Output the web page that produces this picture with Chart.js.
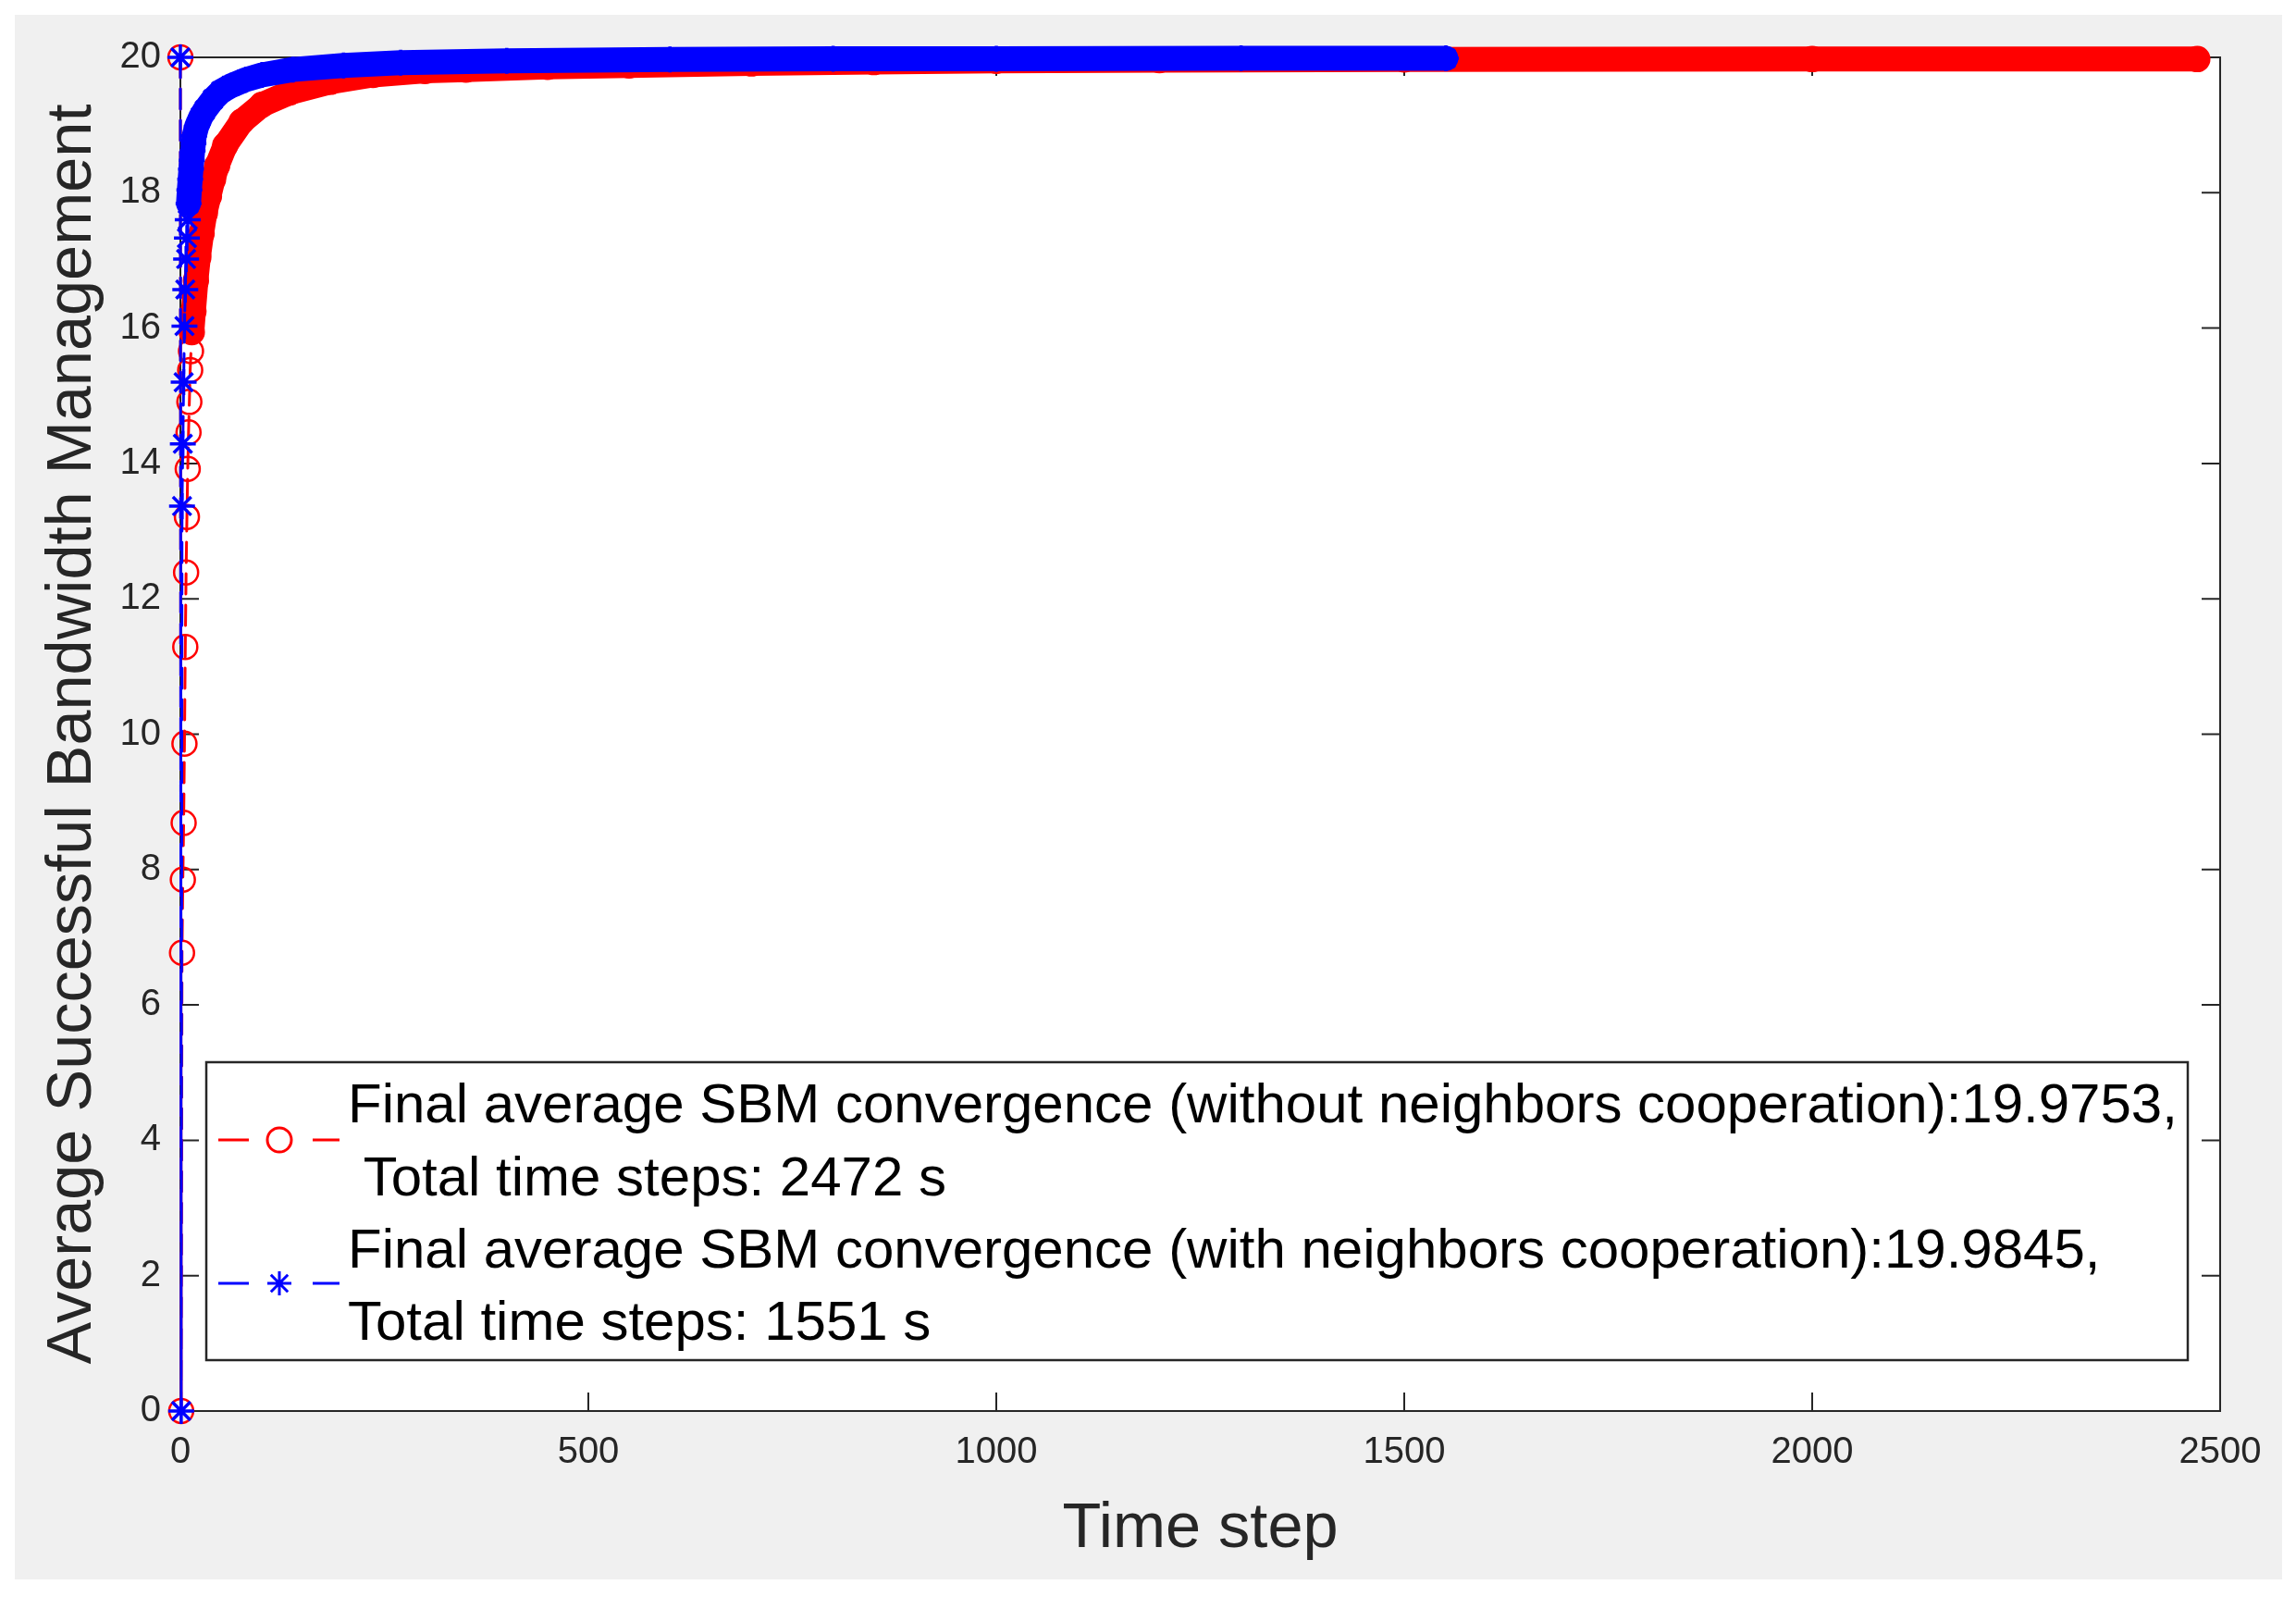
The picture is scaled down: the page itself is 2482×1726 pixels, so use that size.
<!DOCTYPE html>
<html>
<head>
<meta charset="utf-8">
<script src="https://cdn.jsdelivr.net/npm/chart.js@4/dist/chart.umd.min.js"></script>
<style>
  html, body { margin: 0; padding: 0; background: #ffffff; }
  #wrap { width: 2482px; height: 1726px; }
  canvas { display: block; }
</style>
</head>
<body>
<div id="wrap"><canvas id="c" width="2482" height="1726"></canvas></div>
<script>
// ---- data ----
const redT  = [0, 1, 2, 3, 4, 5, 6, 7, 8, 9, 10, 11, 12, 13, 14, 16, 19, 22, 26, 30, 35, 40, 45, 55, 75, 100, 134, 184, 236, 300, 350, 450, 550, 700, 850, 1000, 1200, 1500, 2000, 2472];
const redY  = [20, 0, 6.77, 7.85, 8.69, 9.86, 11.29, 12.39, 13.21, 13.92, 14.46, 14.91, 15.38, 15.66, 15.94, 16.25, 16.7, 17.05, 17.4, 17.7, 17.95, 18.2, 18.4, 18.7, 19.05, 19.3, 19.48, 19.64, 19.74, 19.8, 19.82, 19.86, 19.88, 19.91, 19.93, 19.95, 19.96, 19.97, 19.975, 19.975];
const blueT = [0, 1, 2, 3, 4, 5, 6, 7, 8, 9, 10, 11, 12, 13, 14, 15, 16, 17, 20, 25, 30, 40, 50, 62, 80, 100, 138, 200, 270, 400, 600, 800, 1000, 1300, 1551];
const blueY = [20, 0, 13.37, 14.29, 15.2, 16.03, 16.57, 17.02, 17.33, 17.6, 17.84, 18.04, 18.2, 18.35, 18.48, 18.62, 18.73, 18.84, 18.98, 19.12, 19.22, 19.38, 19.5, 19.58, 19.67, 19.74, 19.82, 19.88, 19.92, 19.95, 19.97, 19.98, 19.98, 19.985, 19.985];
const xTicks = [0, 500, 1000, 1500, 2000, 2500];
const yTicks = [0, 2, 4, 6, 8, 10, 12, 14, 16, 18, 20];
const legendLines = [
  "Final average SBM convergence (without neighbors cooperation):19.9753,",
  " Total time steps: 2472 s",
  "Final average SBM convergence (with neighbors cooperation):19.9845,",
  "Total time steps: 1551 s"
];
const xTitle = "Time step";
const yTitle = "Average Successful Bandwidth Management";

// ---- styling ----
const FONT = '"Liberation Sans", Arial, Helvetica, sans-serif';
const AXIS = '#262626';
const RED = '#ff0000';
const BLUE = '#0000ff';
const BAND = 27;
const DASH = [22, 12];
const redBandFrom = 14;
const blueBandFrom = 10;

const pts = (ts, ys) => ts.map((t, i) => ({ x: t, y: ys[i] }));

const bgPlugin = {
  id: 'bg',
  beforeDraw(chart) {
    const { ctx, chartArea: a } = chart;
    ctx.save();
    ctx.fillStyle = '#ffffff';
    ctx.fillRect(0, 0, chart.width, chart.height);
    ctx.fillStyle = '#f0f0f0';
    ctx.fillRect(16, 16, 2451, 1691);
    ctx.fillStyle = '#ffffff';
    ctx.fillRect(a.left, a.top, a.right - a.left, a.bottom - a.top);
    ctx.restore();
  },
  beforeDatasetsDraw(chart) {
    const { ctx, chartArea: a, scales } = chart;
    ctx.save();
    ctx.strokeStyle = AXIS;
    ctx.lineWidth = 2;
    ctx.strokeRect(a.left, a.top, a.right - a.left, a.bottom - a.top);
    const L = 20;
    ctx.beginPath();
    xTicks.forEach(v => {
      const px = scales.x.getPixelForValue(v);
      ctx.moveTo(px, a.bottom); ctx.lineTo(px, a.bottom - L);
      ctx.moveTo(px, a.top); ctx.lineTo(px, a.top + L);
    });
    yTicks.forEach(v => {
      const py = scales.y.getPixelForValue(v);
      ctx.moveTo(a.left, py); ctx.lineTo(a.left + L, py);
      ctx.moveTo(a.right, py); ctx.lineTo(a.right - L, py);
    });
    ctx.stroke();
    ctx.restore();
  }
};

const legendPlugin = {
  id: 'mlegend',
  afterDatasetsDraw(chart) {
    const { ctx } = chart;
    ctx.save();
    ctx.fillStyle = '#ffffff';
    ctx.fillRect(223, 1148, 2142, 322);
    ctx.strokeStyle = AXIS;
    ctx.lineWidth = 2.5;
    ctx.strokeRect(223, 1148, 2142, 322);
    ctx.font = '60px ' + FONT;
    ctx.fillStyle = '#000000';
    ctx.textBaseline = 'alphabetic';
    ctx.textAlign = 'left';
    const baselines = [1213, 1292, 1370, 1448];
    legendLines.forEach((s, i) => ctx.fillText(s, 376, baselines[i]));
    const sym = (y, color, style) => {
      ctx.strokeStyle = color;
      ctx.lineWidth = 3;
      ctx.beginPath();
      ctx.moveTo(236, y); ctx.lineTo(269, y);
      ctx.moveTo(338, y); ctx.lineTo(367, y);
      ctx.stroke();
      ctx.fillStyle = 'rgba(0,0,0,0)';
      Chart.helpers.drawPoint(ctx, { pointStyle: style, radius: 13, borderWidth: 2.5, rotation: 0 }, 302, y);
    };
    sym(1232, RED, 'circle');
    sym(1387, BLUE, 'star');
    ctx.restore();
  }
};

new Chart(document.getElementById('c'), {
  type: 'line',
  data: {
    datasets: [
      {
        label: 'with neighbors cooperation',
        data: pts(blueT, blueY),
        borderColor: BLUE,
        backgroundColor: 'rgba(0,0,0,0)',
        borderWidth: 3,
        borderDash: DASH,
        pointStyle: 'star',
        pointRadius: 14,
        pointBorderWidth: 3.5,
        pointBorderColor: BLUE,
        pointBackgroundColor: 'rgba(0,0,0,0)',
        tension: 0,
        clip: false,
        order: 0,
        segment: {
          borderWidth: c => c.p0DataIndex >= blueBandFrom ? BAND : 3,
          borderDash: c => c.p0DataIndex >= blueBandFrom ? [] : DASH
        },
        borderCapStyle: 'round',
        borderJoinStyle: 'round'
      },
      {
        label: 'without neighbors cooperation',
        data: pts(redT, redY),
        borderColor: RED,
        backgroundColor: 'rgba(0,0,0,0)',
        borderWidth: 3,
        borderDash: DASH,
        pointStyle: 'circle',
        pointRadius: 13,
        pointBorderWidth: 2.5,
        pointBorderColor: RED,
        pointBackgroundColor: 'rgba(0,0,0,0)',
        tension: 0,
        clip: false,
        order: 1,
        segment: {
          borderWidth: c => c.p0DataIndex >= redBandFrom ? BAND : 3,
          borderDash: c => c.p0DataIndex >= redBandFrom ? [] : DASH
        },
        borderCapStyle: 'round',
        borderJoinStyle: 'round'
      }
    ]
  },
  options: {
    responsive: false,
    animation: false,
    devicePixelRatio: 1,
    layout: { padding: { left: 0, top: 62, right: 82, bottom: 0 } },
    plugins: { legend: { display: false }, tooltip: { enabled: false } },
    scales: {
      x: {
        type: 'linear', min: 0, max: 2500,
        afterBuildTicks: s => { s.ticks = xTicks.map(v => ({ value: v })); },
        afterFit: s => { s.height = 201; },
        grid: { display: false, drawTicks: false },
        border: { display: true, color: AXIS, width: 2 },
        ticks: { padding: 21, color: AXIS, font: { family: FONT, size: 40 }, maxRotation: 0, autoSkip: false, callback: v => String(v) },
        title: { display: true, text: xTitle, color: AXIS, font: { family: FONT, size: 68.5, lineHeight: 1.2 }, padding: { top: 0, bottom: 32 } }
      },
      y: {
        type: 'linear', min: 0, max: 20,
        afterBuildTicks: s => { s.ticks = yTicks.map(v => ({ value: v })); },
        afterFit: s => { s.width = 195; },
        grid: { display: false, drawTicks: false },
        border: { display: true, color: AXIS, width: 2 },
        ticks: { padding: 21, color: AXIS, font: { family: FONT, size: 40 }, autoSkip: false, callback: v => String(v) },
        title: { display: true, text: yTitle, color: AXIS, font: { family: FONT, size: 68.5, lineHeight: 1.2 }, padding: { top: 38, bottom: 0 } }
      }
    }
  },
  plugins: [bgPlugin, legendPlugin]
});
</script>
</body>
</html>
